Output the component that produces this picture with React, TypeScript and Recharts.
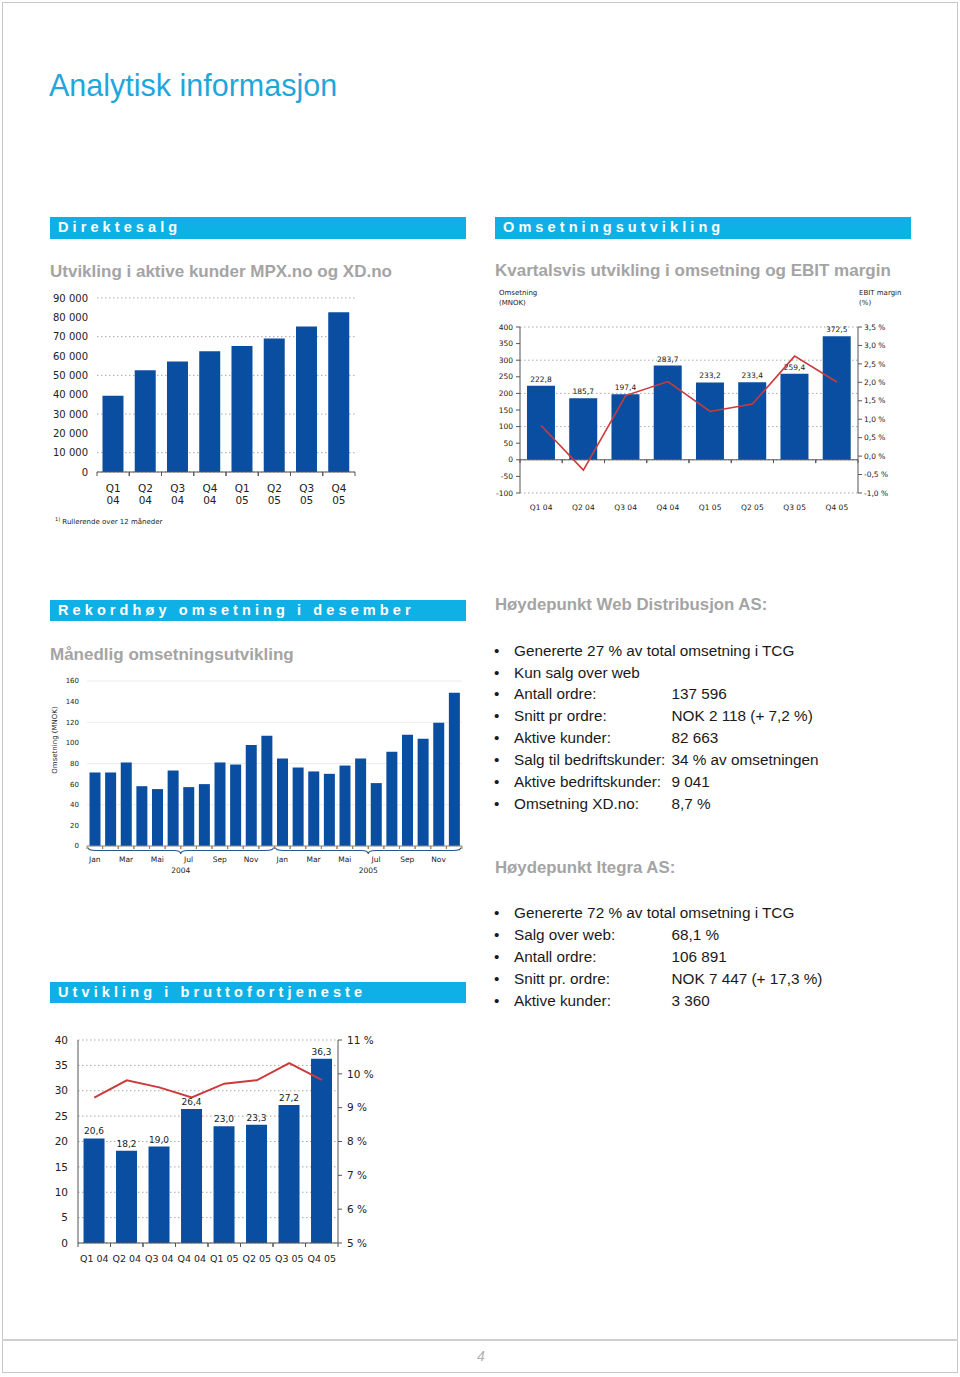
import React from 'react';
import {
  BarChart,
  ComposedChart,
  Bar,
  Line,
  XAxis,
  YAxis,
  CartesianGrid,
  LabelList,
  ReferenceLine,
  ReferenceArea,
} from 'recharts';

// ---------- DATA ----------
const quarters = ['Q1 04', 'Q2 04', 'Q3 04', 'Q4 04', 'Q1 05', 'Q2 05', 'Q3 05', 'Q4 05'];

// Chart 1: active customers MPX.no og XD.no
const activeCustomers = [39400, 52650, 57100, 62450, 65200, 69000, 75200, 82663];
const customerTicks = [0, 10000, 20000, 30000, 40000, 50000, 60000, 70000, 80000, 90000];

// Chart 2: quarterly revenue (MNOK) and EBIT margin (%)
const revenueMNOK = [222.8, 185.7, 197.4, 283.7, 233.2, 233.4, 259.4, 372.5];
const ebitMargin = [0.83, -0.38, 1.64, 2.02, 1.21, 1.41, 2.71, 2.01];
const revenueTicks = [-100, -50, 0, 50, 100, 150, 200, 250, 300, 350, 400];
const ebitTicks = [-1, -0.5, 0, 0.5, 1, 1.5, 2, 2.5, 3, 3.5];

// Chart 3: monthly revenue (MNOK)
const monthNames = ['Jan', 'Feb', 'Mar', 'Apr', 'Mai', 'Jun', 'Jul', 'Aug', 'Sep', 'Okt', 'Nov', 'Des'];
const years = ['2004', '2005'];
const monthlyRevenue2004 = [71.3, 71.3, 81, 58, 55.2, 73.2, 57.1, 60, 81, 79, 98, 107];
const monthlyRevenue2005 = [84.8, 76.1, 72.3, 70, 78, 84.8, 61, 91.3, 108, 103.9, 119.4, 148.7];
const monthlyTicks = [0, 20, 40, 60, 80, 100, 120, 140, 160];

// Chart 4: gross profit (MNOK) and gross margin (%)
const grossProfit = [20.6, 18.2, 19.0, 26.4, 23.0, 23.3, 27.2, 36.3];
const grossMargin = [9.3, 9.81, 9.6, 9.3, 9.71, 9.81, 10.32, 9.82];
const grossTicks = [0, 5, 10, 15, 20, 25, 30, 35, 40];
const marginTicks = [5, 6, 7, 8, 9, 10, 11];

// Text blocks
const webHighlights: [string, string][] = [
  ['Genererte 27 % av total omsetning i TCG', ''],
  ['Kun salg over web', ''],
  ['Antall ordre:', '137 596'],
  ['Snitt pr ordre:', 'NOK 2 118 (+ 7,2 %)'],
  ['Aktive kunder:', '82 663'],
  ['Salg til bedriftskunder:', '34 % av omsetningen'],
  ['Aktive bedriftskunder:', '9 041'],
  ['Omsetning XD.no:', '8,7 %'],
];
const itegraHighlights: [string, string][] = [
  ['Genererte 72 % av total omsetning i TCG', ''],
  ['Salg over web:', '68,1 %'],
  ['Antall ordre:', '106 891'],
  ['Snitt pr. ordre:', 'NOK 7 447 (+ 17,3 %)'],
  ['Aktive kunder:', '3 360'],
];

// ---------- STYLE ----------
const BLUE = '#0a4ea2';
const RED = '#cc3a3c';
const CYAN = '#0fb0e5';
const SUB_GRAY = '#a4a4a4';
const CHART_FONT = '"DejaVu Sans", Verdana, sans-serif';
const TEXT_FONT = '"Liberation Sans", Arial, Helvetica, sans-serif';
const AXIS = '#555';
const DOT_GRID = '#a8a8a8';

const comma = (v: number, d = 1) => v.toFixed(d).replace('.', ',');
const thousands = (v: number) => (v === 0 ? '0' : `${Math.round(v / 1000)} 000`);

// ---------- derived tables ----------
const chart1Data = quarters.map((q, i) => ({ q, v: activeCustomers[i] }));
const chart2Data = quarters.map((q, i) => ({ q, rev: revenueMNOK[i], ebit: ebitMargin[i] }));
const chart3Data = years.flatMap((y, yi) =>
  monthNames.map((m, mi) => ({
    key: `${m} ${y}`,
    v: (yi === 0 ? monthlyRevenue2004 : monthlyRevenue2005)[mi],
  }))
);
const chart4Data = quarters.map((q, i) => ({ q, gp: grossProfit[i], gm: grossMargin[i] }));

// ---------- helpers ----------
function Txt(props: {
  x: number;
  base: number;
  size: number;
  weight?: number | string;
  color?: string;
  font?: string;
  style?: React.CSSProperties;
  children: React.ReactNode;
}) {
  const { x, base, size, weight = 400, color = '#1a1a1a', font = TEXT_FONT, style, children } = props;
  return (
    <div
      style={{
        position: 'absolute',
        left: x,
        top: base - 0.846 * size,
        fontSize: size,
        lineHeight: 1,
        fontWeight: weight as any,
        color,
        fontFamily: font,
        whiteSpace: 'nowrap',
        ...style,
      }}
    >
      {children}
    </div>
  );
}

function SectionBar({ x, y, h, label }: { x: number; y: number; h: number; label: string }) {
  return (
    <div
      style={{
        position: 'absolute',
        left: x,
        top: y,
        width: 416,
        height: h,
        background: CYAN,
        color: '#fff',
        fontFamily: TEXT_FONT,
        fontWeight: 700,
        fontSize: 14.5,
        letterSpacing: 4.1,
        lineHeight: `${h}px`,
        paddingLeft: 8,
        boxSizing: 'border-box',
        whiteSpace: 'nowrap',
      }}
    >
      {label}
    </div>
  );
}

const TwoLineTick = (props: any) => {
  const { x, y, payload } = props;
  const [a, b] = String(payload.value).split(' ');
  return (
    <text x={x} y={y} textAnchor="middle" fontSize={10.5} fontFamily={CHART_FONT} fill="#222">
      <tspan x={x} dy={20.3}>{a}</tspan>
      <tspan x={x} dy={12}>{b}</tspan>
    </text>
  );
};

const makeTick = (fontSize: number, dy: number, fmt?: (v: any) => string) => (props: any) => {
  const { x, y, payload } = props;
  return (
    <text x={x} y={y + dy} textAnchor="middle" fontSize={fontSize} fontFamily={CHART_FONT} fill="#222">
      {fmt ? fmt(payload.value) : payload.value}
    </text>
  );
};

// tick marks at category band edges; the band rectangle comes from a ReferenceArea
const BandEdgeTicks = (props: any) => {
  const { x, y, width, height, len, stroke, below } = props;
  const ya = below ? y + height : y;
  const yb = below ? y + height + len : y + height;
  return (
    <g>
      <line x1={x} x2={x} y1={ya} y2={yb} stroke={stroke} strokeWidth={1} />
      <line x1={x + width} x2={x + width} y1={ya} y2={yb} stroke={stroke} strokeWidth={1} />
    </g>
  );
};

const YearBrace = (props: any) => {
  const { x, y, width, height, year } = props;
  const x0 = x + 1;
  const x1 = x + width - 1;
  const yb = y + height;
  const mid = (x0 + x1) / 2;
  const d = `M${x0},${yb + 1.5} Q${x0},${yb + 4.5} ${x0 + 8},${yb + 4.5} L${mid - 7},${yb + 4.5} Q${mid},${yb + 4.5} ${mid},${yb + 8} Q${mid},${yb + 4.5} ${mid + 7},${yb + 4.5} L${x1 - 8},${yb + 4.5} Q${x1},${yb + 4.5} ${x1},${yb + 1.5}`;
  return (
    <g>
      <path d={d} fill="none" stroke="#2a5595" strokeWidth={1.1} />
      <text x={mid} y={yb + 26.5} textAnchor="middle" fontSize={7.5} fontFamily={CHART_FONT} fill="#222">
        {year}
      </text>
    </g>
  );
};

// ---------- charts ----------
function CustomersChart() {
  return (
    <div style={{ position: 'absolute', left: 30, top: 288 }}>
      <BarChart
        width={340}
        height={240}
        data={chart1Data}
        margin={{ top: 10, right: 15, bottom: 0, left: 0 }}
        barCategoryGap="17%"
      >
        <CartesianGrid vertical={false} stroke={DOT_GRID} strokeDasharray="1.5 2.5" />
        <XAxis
          dataKey="q"
          height={56}
          interval={0}
          axisLine={{ stroke: AXIS }}
          tickLine={false}
          tickSize={0}
          tickMargin={0}
          tick={TwoLineTick}
        />
        <YAxis
          width={67}
          domain={[0, 90000]}
          ticks={customerTicks}
          axisLine={false}
          tickLine={false}
          tickSize={0}
          tickMargin={9}
          tickFormatter={thousands}
          tick={{ fontSize: 10, fill: '#222', fontFamily: CHART_FONT }}
        />
        <Bar dataKey="v" fill={BLUE} isAnimationActive={false} />
        {quarters.map((q) => (
          <ReferenceArea
            key={q}
            x1={q}
            x2={q}
            ifOverflow="visible"
            shape={(p: any) => <BandEdgeTicks {...p} len={4} stroke={AXIS} below />}
          />
        ))}
      </BarChart>
    </div>
  );
}

function RevenueChart() {
  return (
    <div style={{ position: 'absolute', left: 470, top: 285 }}>
      <ComposedChart
        width={450}
        height={235}
        data={chart2Data}
        margin={{ top: 42, right: 0, bottom: 0, left: 0 }}
        barCategoryGap="16.5%"
      >
        <CartesianGrid yAxisId="l" vertical={false} stroke={DOT_GRID} strokeDasharray="1.5 2.5" />
        <XAxis
          dataKey="q"
          height={27}
          interval={0}
          axisLine={false}
          tickLine={false}
          tickSize={0}
          tickMargin={0}
          tick={makeTick(7.5, 16.5)}
        />
        <YAxis
          yAxisId="l"
          width={50}
          domain={[-100, 400]}
          ticks={revenueTicks}
          allowDataOverflow
          axisLine={{ stroke: AXIS }}
          tickLine={{ stroke: AXIS }}
          tickSize={4}
          tickMargin={3}
          tick={{ fontSize: 7.5, fill: '#222', fontFamily: CHART_FONT }}
        />
        <YAxis
          yAxisId="r"
          orientation="right"
          width={62}
          domain={[-1, 3.5]}
          ticks={ebitTicks}
          allowDataOverflow
          axisLine={{ stroke: AXIS }}
          tickLine={{ stroke: AXIS }}
          tickSize={4}
          tickMargin={2}
          tickFormatter={(v: number) => `${comma(v)} %`}
          tick={{ fontSize: 7.5, fill: '#222', fontFamily: CHART_FONT, textAnchor: 'start' }}
        />
        <Bar yAxisId="l" dataKey="rev" fill={BLUE} isAnimationActive={false}>
          <LabelList
            dataKey="rev"
            position="top"
            offset={4}
            formatter={(v: any) => comma(Number(v))}
            style={{ fontSize: 7.5, fill: '#222', fontFamily: CHART_FONT }}
          />
        </Bar>
        <ReferenceLine yAxisId="l" y={0} stroke={AXIS} strokeWidth={1} ifOverflow="visible" />
        {quarters.map((q) => (
          <ReferenceArea
            key={q}
            yAxisId="l"
            x1={q}
            x2={q}
            y1={0}
            y2={-10}
            ifOverflow="visible"
            shape={(p: any) => <BandEdgeTicks {...p} stroke={AXIS} />}
          />
        ))}
        <Line
          yAxisId="r"
          type="linear"
          dataKey="ebit"
          stroke={RED}
          strokeWidth={1.6}
          dot={false}
          isAnimationActive={false}
        />
      </ComposedChart>
    </div>
  );
}

function MonthlyChart() {
  return (
    <div style={{ position: 'absolute', left: 30, top: 670 }}>
      <BarChart
        width={440}
        height={215}
        data={chart3Data}
        margin={{ top: 11, right: 8, bottom: 0, left: 0 }}
        barCategoryGap="16%"
      >
        <CartesianGrid vertical={false} stroke="#ececec" />
        <XAxis
          dataKey="key"
          height={39}
          interval={1}
          axisLine={{ stroke: '#8a8a8a' }}
          tickLine={false}
          tickSize={0}
          tickMargin={0}
          tick={makeTick(7.5, 15.5, (v: string) => String(v).split(' ')[0])}
        />
        <YAxis
          width={57}
          domain={[0, 160]}
          ticks={monthlyTicks}
          axisLine={false}
          tickLine={false}
          tickSize={0}
          tickMargin={8}
          tick={{ fontSize: 7, fill: '#222', fontFamily: CHART_FONT }}
        />
        <Bar dataKey="v" fill={BLUE} isAnimationActive={false} />
        {chart3Data.map((d) => (
          <ReferenceArea
            key={`t-${d.key}`}
            x1={d.key}
            x2={d.key}
            ifOverflow="visible"
            shape={(p: any) => <BandEdgeTicks {...p} len={3} stroke="#b07a3a" below />}
          />
        ))}
        {years.map((y) => (
          <ReferenceArea
            key={y}
            x1={`${monthNames[0]} ${y}`}
            x2={`${monthNames[monthNames.length - 1]} ${y}`}
            ifOverflow="visible"
            shape={(p: any) => <YearBrace {...p} year={y} />}
          />
        ))}
      </BarChart>
    </div>
  );
}

function GrossChart() {
  return (
    <div style={{ position: 'absolute', left: 30, top: 1030 }}>
      <ComposedChart
        width={360}
        height={240}
        data={chart4Data}
        margin={{ top: 10, right: 0, bottom: 0, left: 0 }}
        barCategoryGap="17%"
      >
        <CartesianGrid yAxisId="l" vertical={false} stroke={DOT_GRID} strokeDasharray="1.5 2.5" />
        <XAxis
          dataKey="q"
          height={27}
          interval={0}
          axisLine={{ stroke: AXIS }}
          tickLine={false}
          tickSize={0}
          tickMargin={0}
          tick={makeTick(9.5, 19)}
        />
        <YAxis
          yAxisId="l"
          width={48}
          domain={[0, 40]}
          ticks={grossTicks}
          axisLine={{ stroke: AXIS }}
          tickLine={false}
          tickSize={0}
          tickMargin={10}
          tick={{ fontSize: 10.5, fill: '#222', fontFamily: CHART_FONT }}
        />
        <YAxis
          yAxisId="r"
          orientation="right"
          width={52}
          domain={[5, 11]}
          ticks={marginTicks}
          allowDataOverflow
          axisLine={{ stroke: AXIS }}
          tickLine={{ stroke: AXIS }}
          tickSize={4}
          tickMargin={5}
          tickFormatter={(v: number) => `${v} %`}
          tick={{ fontSize: 10.5, fill: '#222', fontFamily: CHART_FONT, textAnchor: 'start' }}
        />
        <Bar yAxisId="l" dataKey="gp" fill={BLUE} isAnimationActive={false}>
          <LabelList
            dataKey="gp"
            position="top"
            offset={4}
            formatter={(v: any) => comma(Number(v))}
            style={{ fontSize: 9, fill: '#222', fontFamily: CHART_FONT }}
          />
        </Bar>
        {quarters.map((q) => (
          <ReferenceArea
            key={q}
            yAxisId="l"
            x1={q}
            x2={q}
            ifOverflow="visible"
            shape={(p: any) => <BandEdgeTicks {...p} len={4} stroke={AXIS} below />}
          />
        ))}
        <Line
          yAxisId="r"
          type="linear"
          dataKey="gm"
          stroke={RED}
          strokeWidth={2}
          dot={false}
          isAnimationActive={false}
        />
      </ComposedChart>
    </div>
  );
}

function BulletList({ items, firstBase }: { items: [string, string][]; firstBase: number }) {
  return (
    <>
      {items.map(([label, value], i) => {
        const base = firstBase + i * 21.85;
        return (
          <React.Fragment key={i}>
            <Txt x={494} base={base} size={15.3}>•</Txt>
            <Txt x={514} base={base} size={15.3}>{label}</Txt>
            {value && (
              <Txt x={671.5} base={base} size={15.3}>
                {value}
              </Txt>
            )}
          </React.Fragment>
        );
      })}
    </>
  );
}

export default function App() {
  return (
    <div
      style={{
        position: 'absolute',
        left: 0,
        top: 0,
        width: 960,
        height: 1377,
        background: '#fff',
        overflow: 'hidden',
      }}
    >
      {/* page frame */}
      <div
        style={{
          position: 'absolute',
          left: 2,
          top: 2,
          width: 956,
          height: 1371,
          border: '1px solid #c8c8c8',
          boxSizing: 'border-box',
        }}
      />
      <div style={{ position: 'absolute', left: 2, top: 1339, width: 956, height: 1.5, background: '#cfcfcf' }} />
      <Txt x={477} base={1361} size={14} color="#b0b0b0" style={{ fontStyle: 'italic', fontWeight: 300 }}>
        4
      </Txt>

      <Txt x={49} base={96} size={30.5} color="#1fa7dc">
        Analytisk informasjon
      </Txt>

      <SectionBar x={50} y={217} h={21.5} label="Direktesalg" />
      <SectionBar x={495} y={217} h={21.5} label="Omsetningsutvikling" />
      <SectionBar x={50} y={599.5} h={21} label="Rekordhøy omsetning i desember" />
      <SectionBar x={50} y={982} h={21} label="Utvikling i bruttofortjeneste" />

      <Txt x={50} base={277.3} size={17} weight={700} color={SUB_GRAY}>
        Utvikling i aktive kunder MPX.no og XD.no
      </Txt>
      <Txt x={495} base={276.8} size={17} weight={700} color={SUB_GRAY}>
        Kvartalsvis utvikling i omsetning og EBIT margin
      </Txt>
      <Txt x={50} base={660.7} size={17} weight={700} color={SUB_GRAY}>
        Månedlig omsetningsutvikling
      </Txt>
      <Txt x={495} base={611} size={16.8} weight={700} color={SUB_GRAY}>
        Høydepunkt Web Distribusjon AS:
      </Txt>
      <Txt x={495} base={874.3} size={16.8} weight={700} color={SUB_GRAY}>
        Høydepunkt Itegra AS:
      </Txt>

      <CustomersChart />
      <Txt x={55} base={523} size={7} font={CHART_FONT} color="#222">
        <sup style={{ fontSize: 5 }}>1)</sup> Rullerende over 12 måneder
      </Txt>

      <RevenueChart />
      <Txt x={499} base={296} size={7} font={CHART_FONT} color="#222">
        Omsetning
      </Txt>
      <Txt x={499} base={305.5} size={7} font={CHART_FONT} color="#222">
        (MNOK)
      </Txt>
      <Txt x={859} base={296} size={7} font={CHART_FONT} color="#222">
        EBIT margin
      </Txt>
      <Txt x={859} base={305.5} size={7} font={CHART_FONT} color="#222">
        (%)
      </Txt>

      <MonthlyChart />
      <div style={{ position: 'absolute', left: 55, top: 740, width: 0, height: 0 }}>
        <div
          style={{
            position: 'absolute',
            left: 0,
            top: 0,
            transform: 'translate(-50%, -50%) rotate(-90deg)',
            fontSize: 7,
            fontFamily: CHART_FONT,
            color: '#222',
            whiteSpace: 'nowrap',
            lineHeight: 1,
          }}
        >
          Omsetning (MNOK)
        </div>
      </div>

      <GrossChart />

      <BulletList items={webHighlights} firstBase={655.7} />
      <BulletList items={itegraHighlights} firstBase={918.3} />
    </div>
  );
}
